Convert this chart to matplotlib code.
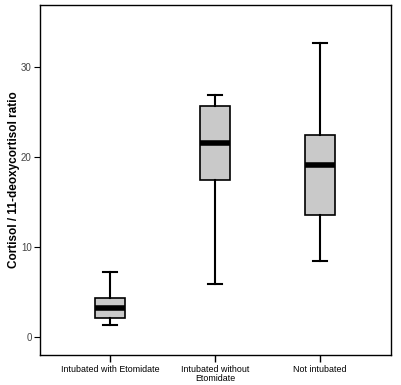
import matplotlib
matplotlib.use('Agg')
import matplotlib.pyplot as plt

plt.rcParams['font.family'] = ['Liberation Sans', 'DejaVu Sans']

# groups and box statistics
groups = ['Intubated with Etomidate', 'Intubated without\nEtomidate', 'Not intubated']
whislo = [1.3, 5.9, 8.4]
q1 = [2.15, 17.4, 13.6]
med = [3.2, 21.6, 19.1]
q3 = [4.3, 25.7, 22.4]
whishi = [7.2, 26.9, 32.7]

stats = []
for i in range(len(groups)):
    stats.append({'label': groups[i], 'whislo': whislo[i], 'q1': q1[i],
                  'med': med[i], 'q3': q3[i], 'whishi': whishi[i], 'fliers': []})

fig = plt.figure(figsize=(4.01, 3.85), dpi=100)
ax = fig.add_axes([40/401, 1-355/385, 351/401, 350/385])

ax.bxp(stats, positions=[1, 2, 3], widths=0.29, patch_artist=True, showfliers=False,
       boxprops=dict(facecolor='#c9c9c9', edgecolor='black', linewidth=1.2),
       medianprops=dict(color='black', linewidth=4, solid_capstyle='butt'),
       whiskerprops=dict(color='black', linewidth=1.5),
       capprops=dict(color='black', linewidth=1.5), capwidths=0.14)

ax.set_xlim(0.333, 3.676)
ax.set_ylim(-2.0, 36.9)
ax.set_yticks([0, 10, 20, 30])
ax.tick_params(axis='y', labelsize=7, labelcolor='#444444', length=4, width=0.8, pad=2)
ax.tick_params(axis='x', labelsize=6.4, length=5, width=1.0, pad=2)
for t in ax.get_xticklabels():
    t.set_linespacing(1.0)
ax.set_ylabel('Cortisol / 11-deoxycortisol ratio', fontsize=8.5, fontweight='bold', labelpad=1)
for s in ax.spines.values():
    s.set_linewidth(1.0)

fig.savefig('out.png', dpi=100)
